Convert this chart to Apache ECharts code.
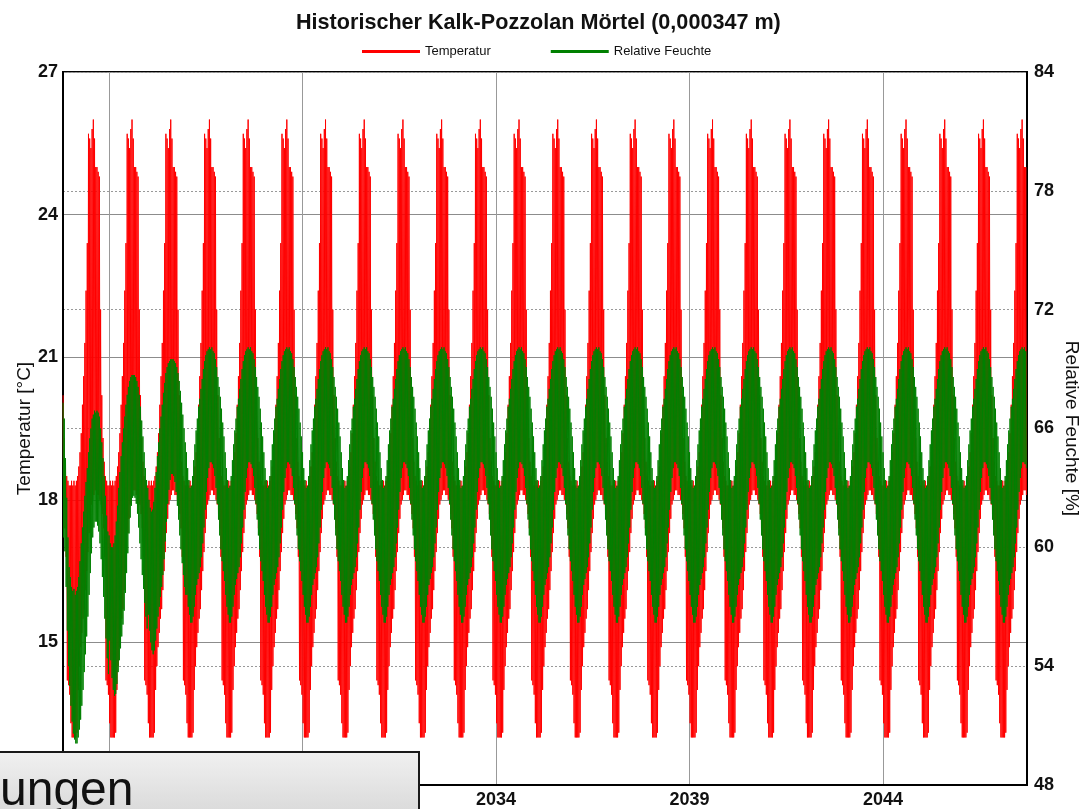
<!DOCTYPE html>
<html><head><meta charset="utf-8">
<script src="https://cdn.jsdelivr.net/npm/echarts@6/dist/echarts.min.js"></script>
<style>html,body{margin:0;padding:0;background:#fff}#c{width:1082px;height:809px}</style>
</head><body><div id="c"></div>
<script>
// ---- data ----
const titleText = 'Historischer Kalk-Pozzolan Mörtel (0,000347 m)';
const seriesNames = ['Temperatur', 'Relative Feuchte'];
const xTickYears = [2024, 2029, 2034, 2039, 2044];
const startTime = 2022.81, endTime = 2047.72;
const stepsPerYear = 32; // envelope samples per year (max / min pairs)

// steady annual cycle of the surface temperature [°C] (upper / lower envelope)
const tempHiCycle = [18.3,18.4,18.3,18.4,18.3,18.4,18.5,18.7,19.0,19.4,20.0,20.6,21.3,22.4,23.4,25.7,
                     25.6,25.4,25.8,26.0,25.6,25.0,25.0,24.9,24.8,22.0,20.2,19.3,18.8,18.5,18.4,18.3];
const tempLoCycle = [13.3,13.0,13.0,13.0,13.0,13.1,14.0,14.5,14.9,15.2,15.5,15.7,16.1,16.5,16.9,17.3,
                     17.6,17.9,18.0,18.1,18.2,18.2,18.1,18.1,18.0,17.9,17.7,17.4,16.8,14.2,14.1,13.9];

// steady annual cycle of relative humidity [%]
const rhHiCycle = [64.8,64.0,63.4,63.0,63.1,63.6,64.4,65.2,65.9,66.5,67.1,67.5,68.0,68.5,69.0,69.4,
                   69.7,69.9,70.0,70.1,70.0,70.1,69.9,69.8,69.5,69.1,68.6,68.1,67.6,67.0,66.3,65.6];
const rhLoCycle = [57.6,57.0,56.6,56.2,56.2,56.5,57.0,57.6,58.1,58.4,58.7,59.0,59.5,60.2,61.0,61.9,
                   62.8,63.5,64.0,64.3,64.3,64.2,64.0,63.6,63.0,62.2,61.4,60.6,59.9,59.3,58.8,58.3];

// settling-in years of relative humidity [%]
const rhHi2022 = [67.3,66.5,64.5,62.5,60.5,59.0];
const rhLo2022 = [60.5,59.8,58.0,55.8,54.0,53.0];
const rhHi2023 = [58.5,58.0,57.8,57.9,57.6,57.8,58.0,58.5,59.3,60.2,61.0,61.8,62.6,63.3,64.0,64.8,
                  65.5,66.0,66.5,66.7,66.9,66.8,66.9,66.8,66.6,66.0,65.3,64.5,63.6,62.6,61.6,60.8];
const rhLo2023 = [52.0,51.2,50.6,50.3,50.1,50.1,50.4,50.8,51.3,52.0,52.8,53.7,54.6,55.5,56.5,57.6,
                  58.7,59.7,60.5,61.0,61.3,61.3,61.1,60.8,60.2,59.4,58.5,57.5,56.4,55.4,54.4,53.6];
const rhHi2024 = [60.6,60.2,60.0,60.0,60.2,60.6,61.3,62.1,63.0,63.8,64.6,65.3,66.0,66.6,67.2,67.7,
                  68.1,68.4,68.6,68.7,68.7,68.7,68.6,68.4,68.1,67.7,67.1,66.4,65.6,64.8,64.0,63.4];
const rhLo2024 = [55.3,54.3,53.4,52.8,52.5,52.6,53.1,53.7,54.3,54.9,55.5,56.1,56.8,57.7,58.7,59.7,
                  60.7,61.5,62.1,62.5,62.6,62.5,62.2,61.7,61.0,60.2,59.4,58.6,57.9,57.2,56.5,55.9];
const rhHi2025 = [63.0,62.4,62.0,61.8,61.9,62.3,63.0,63.8,64.6,65.3,66.0,66.6,67.2,67.8,68.3,68.8,
                  69.1,69.3,69.4,69.5,69.5,69.5,69.4,69.3,69.1,68.8,68.4,67.9,67.3,66.7,66.0,65.3];
const rhLo2025 = [56.6,55.8,55.2,54.8,54.6,54.8,55.3,55.9,56.5,57.0,57.5,58.0,58.6,59.4,60.3,61.3,
                  62.2,62.9,63.4,63.7,63.7,63.6,63.3,62.8,62.1,61.4,60.6,59.9,59.2,58.6,58.0,57.6];

// ---- build the zigzag envelope series ----
function build(cycleHi, cycleLo, special) {
  const data = [];
  for (let y = 2022; y <= 2047; y++) {
    for (let i = 0; i < stepsPerYear; i++) {
      const t = y + i / stepsPerYear;
      const t2 = t + 0.5 / stepsPerYear;
      if (t < startTime - 1e-9 || t2 > endTime) continue;
      let hi = cycleHi[i], lo = cycleLo[i];
      const sp = special[y];
      if (sp) { const k = i - (stepsPerYear - sp[0].length); hi = sp[0][k]; lo = sp[1][k]; }
      data.push([t, hi], [t2, lo]);
    }
  }
  return data;
}
const tempData = build(tempHiCycle, tempLoCycle, {});
const rhData = build(rhHiCycle, rhLoCycle, {
  2022: [rhHi2022, rhLo2022], 2023: [rhHi2023, rhLo2023],
  2024: [rhHi2024, rhLo2024], 2025: [rhHi2025, rhLo2025]
});

const FONT = '"Liberation Sans", Arial, sans-serif';
const chart = echarts.init(document.getElementById('c'), null, {renderer: 'canvas'});
chart.setOption({
  animation: false,
  backgroundColor: '#fff',
  title: {
    text: titleText, left: 291, top: 7,
    textStyle: {fontFamily: FONT, fontSize: 21.6, fontWeight: 'bold', color: '#111'}
  },
  legend: {
    left: 362, top: 45, padding: 0, icon: 'rect', itemWidth: 58, itemHeight: 3, itemGap: 60,
    textStyle: {fontFamily: FONT, fontSize: 13, color: '#111'},
    data: seriesNames
  },
  grid: {left: 63, right: 55, top: 72, bottom: 24, show: true, borderColor: '#000', borderWidth: 2,
         containLabel: false, outerBoundsMode: 'none'},
  xAxis: {
    type: 'value', min: startTime, max: endTime,
    axisLine: {show: true, lineStyle: {color: '#000', width: 2}},
    axisTick: {show: false, customValues: xTickYears},
    axisLabel: {customValues: xTickYears, formatter: v => String(Math.round(v)), fontFamily: FONT, fontSize: 18, fontWeight: 'bold', color: '#111', margin: 6},
    splitLine: {show: true, lineStyle: {color: '#999', width: 1}}
  },
  yAxis: [{
    type: 'value', min: 12, max: 27, interval: 3, position: 'left',
    name: 'Temperatur [°C]', nameLocation: 'middle', nameGap: 29, nameMoveOverlap: false,
    nameTextStyle: {fontFamily: FONT, fontSize: 19, color: '#111'},
    axisLine: {show: true, lineStyle: {color: '#000', width: 2}},
    axisTick: {show: false},
    axisLabel: {fontFamily: FONT, fontSize: 18, fontWeight: 'bold', color: '#111', margin: 5},
    splitLine: {show: true, lineStyle: {color: '#8c8c8c', width: 1}}
  }, {
    type: 'value', min: 48, max: 84, interval: 6, position: 'right',
    name: 'Relative Feuchte [%]', nameLocation: 'middle', nameGap: 35, nameRotate: -90, nameMoveOverlap: false,
    nameTextStyle: {fontFamily: FONT, fontSize: 19, color: '#111'},
    axisLine: {show: true, lineStyle: {color: '#000', width: 2}},
    axisTick: {show: false},
    axisLabel: {fontFamily: FONT, fontSize: 18, fontWeight: 'bold', color: '#111', margin: 7},
    splitLine: {show: true, lineStyle: {color: '#999', width: 1, type: [2, 2]}}
  }],
  series: [{
    name: seriesNames[0], type: 'line', yAxisIndex: 0, data: tempData,
    showSymbol: false, symbol: 'none',
    lineStyle: {color: '#ff0000', width: 1}, itemStyle: {color: '#ff0000'}, z: 2
  }, {
    name: seriesNames[1], type: 'line', yAxisIndex: 1, data: rhData,
    showSymbol: false, symbol: 'none',
    lineStyle: {color: '#008000', width: 1}, itemStyle: {color: '#008000'}, z: 3
  }],
  graphic: [{
    type: 'rect', z: 100,
    shape: {x: -2, y: 752, width: 421, height: 62},
    style: {
      fill: new echarts.graphic.LinearGradient(0, 0, 0, 1, [{offset: 0, color: '#f1f1f1'}, {offset: 1, color: '#d9d9d9'}]),
      stroke: '#1a1a1a', lineWidth: 2
    }
  }, {
    type: 'text', z: 101, x: 0, y: 792,
    style: {text: 'ungen', font: '48px "Liberation Sans", Arial, sans-serif', fill: '#111', verticalAlign: 'middle'}
  }]
});
</script></body></html>
